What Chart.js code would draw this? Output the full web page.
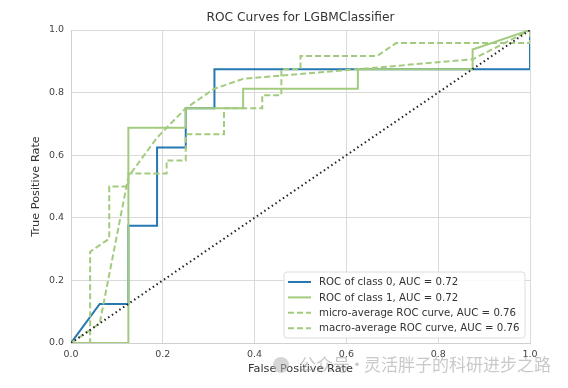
<!DOCTYPE html>
<html>
<head>
<meta charset="utf-8">
<script src="https://cdn.jsdelivr.net/npm/chart.js@4.4.1/dist/chart.umd.min.js"></script>
<style>
  html, body { margin: 0; padding: 0; background: #ffffff; }
  #wrap { width: 568px; height: 388px; }
</style>
</head>
<body>
<div id="wrap"><canvas id="c" width="568" height="388"></canvas></div>
<script>
// ---- data ----
const chartTitle = "ROC Curves for LGBMClassifier";
const xTitle = "False Positive Rate";
const yTitle = "True Positive Rate";
const watermarkParts = ["公众号", "·", "灵活胖子的科研进步之路"];

const class0Fpr = [0, 0.0625, 0.125, 0.125, 0.1875, 0.1875, 0.25, 0.25, 0.3125, 0.3125, 1, 1];
const class0Tpr = [0, 0.125, 0.125, 0.375, 0.375, 0.625, 0.625, 0.75, 0.75, 0.875, 0.875, 1];

const class1Fpr = [0, 0.125, 0.125, 0.25, 0.25, 0.375, 0.375, 0.625, 0.625, 0.875, 0.875, 1];
const class1Tpr = [0, 0, 0.6875, 0.6875, 0.75, 0.75, 0.8125, 0.8125, 0.875, 0.875, 0.9375, 1];

const microFpr = [0, 0.0417, 0.0417, 0.0833, 0.0833, 0.125, 0.125, 0.2083, 0.2083, 0.25, 0.25, 0.3333, 0.3333, 0.4167, 0.4167, 0.4583, 0.4583, 0.5, 0.5, 0.6667, 0.7083, 1, 1];
const microTpr = [0, 0, 0.2917, 0.3333, 0.5, 0.5, 0.5417, 0.5417, 0.5833, 0.5833, 0.6667, 0.6667, 0.75, 0.75, 0.7917, 0.7917, 0.875, 0.875, 0.9167, 0.9167, 0.9583, 0.9583, 1];

const macroFpr = [0, 0.0625, 0.125, 0.1875, 0.25, 0.3125, 0.375, 0.625, 0.875, 1];
const macroTpr = [0, 0.0625, 0.5313, 0.6563, 0.75, 0.8125, 0.8438, 0.875, 0.9063, 1];

const chanceX = [0, 1];
const chanceY = [0, 1];

const seriesLabels = [
  "ROC of class 0, AUC = 0.72",
  "ROC of class 1, AUC = 0.72",
  "micro-average ROC curve, AUC = 0.76",
  "macro-average ROC curve, AUC = 0.76"
];
const tickValues = [0, 0.2, 0.4, 0.6, 0.8, 1.0];

// ---- helpers ----
const pts = (xs, ys) => xs.map((x, i) => ({ x: x, y: ys[i] }));
const BLUE = "#2678b2";
const GREEN = "#a3cb7e";
const FONT = "'DejaVu Sans', 'Liberation Sans', sans-serif";

const titlePlugin = {
  id: "axesTitle",
  afterDraw(chart) {
    const ctx = chart.ctx;
    const ca = chart.chartArea;
    ctx.save();
    ctx.font = "12.2px " + FONT;
    ctx.fillStyle = "#333333";
    ctx.textAlign = "center";
    ctx.textBaseline = "middle";
    ctx.fillText(chartTitle, (ca.left + ca.right) / 2, 18);
    ctx.restore();
  }
};

const legendPlugin = {
  id: "insideLegend",
  afterDatasetsDraw(chart) {
    const ctx = chart.ctx;
    const ca = chart.chartArea;
    const items = chart.data.datasets.filter(d => d.inLegend);
    const boxW = 241, rowH = 15.4, boxH = 66;
    const bx = ca.right - 5 - boxW;
    const by = ca.bottom - 5 - boxH;
    ctx.save();
    const r = 3;
    ctx.beginPath();
    ctx.moveTo(bx + r, by);
    ctx.lineTo(bx + boxW - r, by);
    ctx.quadraticCurveTo(bx + boxW, by, bx + boxW, by + r);
    ctx.lineTo(bx + boxW, by + boxH - r);
    ctx.quadraticCurveTo(bx + boxW, by + boxH, bx + boxW - r, by + boxH);
    ctx.lineTo(bx + r, by + boxH);
    ctx.quadraticCurveTo(bx, by + boxH, bx, by + boxH - r);
    ctx.lineTo(bx, by + r);
    ctx.quadraticCurveTo(bx, by, bx + r, by);
    ctx.closePath();
    ctx.fillStyle = "rgba(255,255,255,0.85)";
    ctx.fill();
    ctx.strokeStyle = "#dddddd";
    ctx.lineWidth = 1;
    ctx.stroke();
    ctx.font = "10.2px " + FONT;
    ctx.textBaseline = "middle";
    ctx.textAlign = "left";
    items.forEach((d, i) => {
      const y = by + 10 + i * rowH;
      ctx.beginPath();
      ctx.setLineDash(d.borderDash || []);
      ctx.strokeStyle = d.borderColor;
      ctx.lineWidth = d.borderWidth;
      ctx.moveTo(bx + 4, y);
      ctx.lineTo(bx + 27, y);
      ctx.stroke();
      ctx.setLineDash([]);
      ctx.fillStyle = "#333333";
      ctx.fillText(d.label, bx + 35, y + 0.5);
    });
    ctx.restore();
  }
};

const watermarkPlugin = {
  id: "watermark",
  afterDraw(chart) {
    const ctx = chart.ctx;
    ctx.save();
    ctx.fillStyle = "rgba(180,180,180,0.55)";
    ctx.beginPath();
    ctx.arc(281, 365, 8, 0, Math.PI * 2);
    ctx.fill();
    ctx.font = "17px 'Noto Sans CJK SC', sans-serif";
    ctx.textBaseline = "middle";
    ctx.fillStyle = "rgba(165,165,165,0.6)";
    ctx.textAlign = "left";
    ctx.fillText(watermarkParts[0], 299, 365);
    ctx.textAlign = "center";
    ctx.fillText(watermarkParts[1], 357, 365);
    ctx.textAlign = "left";
    ctx.fillText(watermarkParts[2], 364, 365);
    ctx.restore();
  }
};

new Chart(document.getElementById("c"), {
  type: "scatter",
  data: {
    datasets: [
      { label: seriesLabels[0], data: pts(class0Fpr, class0Tpr), borderColor: BLUE, borderWidth: 2, inLegend: true, order: 5 },
      { label: seriesLabels[1], data: pts(class1Fpr, class1Tpr), borderColor: GREEN, borderWidth: 2, inLegend: true, order: 4 },
      { label: seriesLabels[2], data: pts(microFpr, microTpr), borderColor: GREEN, borderWidth: 2, borderDash: [6, 3], inLegend: true, order: 3 },
      { label: seriesLabels[3], data: pts(macroFpr, macroTpr), borderColor: GREEN, borderWidth: 2, borderDash: [6, 3], inLegend: true, order: 2 },
      { label: "chance", data: pts(chanceX, chanceY), borderColor: "#222222", borderWidth: 2, borderDash: [1.5, 3], inLegend: false, order: 1 }
    ].map(d => Object.assign({
      showLine: true, fill: false, pointRadius: 0, pointHoverRadius: 0, tension: 0,
      backgroundColor: d.borderColor
    }, d))
  },
  options: {
    responsive: false,
    animation: false,
    events: [],
    layout: { padding: { left: 0, right: 38, top: 30, bottom: 0 } },
    plugins: {
      legend: { display: false },
      tooltip: { enabled: false },
      title: { display: false }
    },
    scales: {
      x: {
        type: "linear", min: 0, max: 1,
        afterBuildTicks: s => { s.ticks = tickValues.map(v => ({ value: v })); },
        afterFit: s => { s.height = 45; },
        ticks: { color: "#444444", font: { family: FONT, size: 9.5 }, padding: 6, callback: v => v.toFixed(1), maxRotation: 0 },
        grid: { color: "#dadada", lineWidth: 1, drawTicks: false },
        border: { color: "#d0d0d0", width: 1 },
        title: { display: true, text: xTitle, color: "#333333", font: { family: FONT, size: 11.3 }, padding: { top: 0, bottom: 12 } }
      },
      y: {
        type: "linear", min: 0, max: 1,
        afterBuildTicks: s => { s.ticks = tickValues.map(v => ({ value: v })); },
        afterFit: s => { s.width = 71; },
        ticks: { color: "#444444", font: { family: FONT, size: 9.5 }, padding: 7, callback: v => v.toFixed(1) },
        grid: { color: "#dadada", lineWidth: 1, drawTicks: false },
        border: { color: "#d0d0d0", width: 1 },
        title: { display: true, text: yTitle, color: "#333333", font: { family: FONT, size: 11.3 }, padding: { top: 29, bottom: 0 } }
      }
    }
  },
  plugins: [titlePlugin, legendPlugin, watermarkPlugin]
});
</script>
</body>
</html>
